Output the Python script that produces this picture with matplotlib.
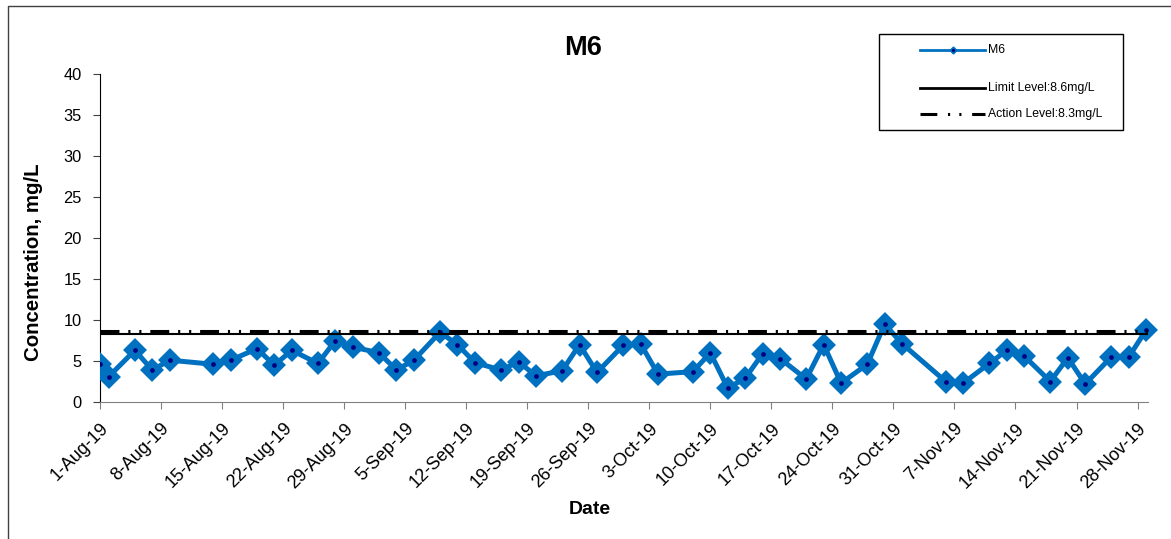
#!/usr/bin/env python3
"""
M6 concentration chart (Aug - Nov 2019).
"""

import matplotlib
matplotlib.use("Agg")
import matplotlib.pyplot as plt
import matplotlib.dates as mdates
from matplotlib.lines import Line2D
from matplotlib.patches import Rectangle
import pandas as pd

plt.rcParams['font.family'] = ['Liberation Sans', 'DejaVu Sans']

# sample dates and measured values
dates = [
    "2019-08-01", "2019-08-02", "2019-08-05", "2019-08-07", "2019-08-09",
    "2019-08-14", "2019-08-16", "2019-08-19", "2019-08-21", "2019-08-23",
    "2019-08-26", "2019-08-28", "2019-08-30", "2019-09-02", "2019-09-04",
    "2019-09-06", "2019-09-09", "2019-09-11", "2019-09-13", "2019-09-16",
    "2019-09-18", "2019-09-20", "2019-09-23", "2019-09-25", "2019-09-27",
    "2019-09-30", "2019-10-02", "2019-10-04", "2019-10-08", "2019-10-10",
    "2019-10-12", "2019-10-14", "2019-10-16", "2019-10-18", "2019-10-21",
    "2019-10-23", "2019-10-25", "2019-10-28", "2019-10-30", "2019-11-01",
    "2019-11-06", "2019-11-08", "2019-11-11", "2019-11-13", "2019-11-15",
    "2019-11-18", "2019-11-20", "2019-11-22", "2019-11-25", "2019-11-27",
    "2019-11-29",
]
m6_values = [
    4.6, 3.1, 6.3, 3.9, 5.1,
    4.6, 5.1, 6.5, 4.5, 6.3,
    4.7, 7.5, 6.7, 6.0, 3.9,
    5.1, 8.5, 7.0, 4.8, 3.9,
    4.9, 3.2, 3.8, 7.0, 3.6,
    6.9, 7.1, 3.4, 3.7, 6.0,
    1.7, 2.9, 5.9, 5.3, 2.8,
    7.0, 2.3, 4.6, 9.5, 7.1,
    2.5, 2.3, 4.7, 6.3, 5.6,
    2.5, 5.4, 2.2, 5.5, 5.5,
    8.8,
]

# reference levels (positions as drawn on the chart)
limit_level = 8.3
action_level = 8.6
limit_label = "Limit Level:8.6mg/L"
action_label = "Action Level:8.3mg/L"

tick_dates = pd.date_range("2019-08-01", "2019-11-28", freq="7D")
y_ticks = [0, 5, 10, 15, 20, 25, 30, 35, 40]

BLUE = "#0070C0"
NAVY = "#000080"
ACTION_DASH = (0, (6.2, 2.9, 0.7, 2.9, 0.7, 2.9))

x = pd.to_datetime(dates)

W, H = 1171, 539
fig = plt.figure(figsize=(W / 100, H / 100), dpi=100)
ax = fig.add_axes([100 / W, 1 - 402 / H, (1148 - 100) / W, (402 - 74) / H])

# outer chart border (only left/top visible in this crop)
fig.patches.append(Rectangle((7.5 / W, -0.2), 1.5, 1.2 - 6 / H,
                             transform=fig.transFigure, fill=False,
                             edgecolor="#404040", linewidth=1.0))

# clip only on the left so the last marker may spill right
clip = Rectangle((0, -1), 3, 3, transform=ax.transAxes, visible=False)
ax.add_patch(clip)

line, = ax.plot(x, m6_values, color=BLUE, lw=3.6, marker="D", ms=9.3,
                mfc=BLUE, mec=BLUE, mew=3, solid_joinstyle="round", zorder=3)
line.set_clip_path(clip)
dots, = ax.plot(x, m6_values, ls="none", marker="o", ms=2.4, color=NAVY, zorder=4)
dots.set_clip_path(clip)

ax.axhline(limit_level, color="black", lw=1.5, zorder=5)
ax.axhline(action_level, color="black", lw=2.2, ls=ACTION_DASH, zorder=5)

ax.set_xlim(mdates.date2num(pd.Timestamp("2019-08-01")),
            mdates.date2num(pd.Timestamp("2019-11-29")) + 0.2)
ax.set_ylim(0, 40)
ax.set_yticks(y_ticks)
ax.set_xticks(tick_dates)
ax.set_xticklabels([f"{d.day}-{d.strftime('%b')}-{d.strftime('%y')}" for d in tick_dates],
                   rotation=45, ha="right", rotation_mode="anchor", fontsize=13)
ax.tick_params(axis="y", labelsize=11.8, length=5, pad=8, color="#404040")
ax.tick_params(axis="x", length=5, pad=8, color="#808080")

for s in ["top", "right"]:
    ax.spines[s].set_visible(False)
ax.spines["left"].set_color("black")
ax.spines["bottom"].set_color("#808080")

fig.text(583 / W, 1 - 48 / H, "M6", ha="center", va="center",
         fontsize=19.5, fontweight="bold")
fig.text(590 / W, 1 - 510 / H, "Date", ha="center", va="center",
         fontsize=14, fontweight="bold")
fig.text(34 / W, 1 - 262 / H, "Concentration, mg/L", ha="center", va="center",
         rotation=90, fontsize=14.7, fontweight="bold")

# legend box, drawn by hand to keep Excel's uneven row spacing
fig.patches.append(Rectangle((879 / W, 1 - 130 / H), (1123 - 879) / W, 96 / H,
                             transform=fig.transFigure, fill=False,
                             edgecolor="black", linewidth=1.0))
leg_rows = [50, 88, 114]
hx = [920 / W, 985 / W]
fig.lines.append(Line2D(hx, [1 - leg_rows[0] / H] * 2, transform=fig.transFigure,
                        color=BLUE, lw=2))
fig.lines.append(Line2D([952.5 / W], [1 - leg_rows[0] / H], transform=fig.transFigure,
                        ls="none", marker="D", ms=3.5, mfc=BLUE, mec=BLUE))
fig.lines.append(Line2D([952.5 / W], [1 - leg_rows[0] / H], transform=fig.transFigure,
                        ls="none", marker="o", ms=1.3, color=NAVY))
fig.lines.append(Line2D(hx, [1 - leg_rows[1] / H] * 2, transform=fig.transFigure,
                        color="black", lw=2))
fig.lines.append(Line2D(hx, [1 - leg_rows[2] / H] * 2, transform=fig.transFigure,
                        color="black", lw=2.2, ls=(0, (5.5, 3.5, 0.7, 3.0, 0.7, 3.5))))
for row, lbl in zip(leg_rows, ["M6", limit_label, action_label]):
    fig.text(988 / W, 1 - row / H, lbl, ha="left", va="center", fontsize=8.8)

fig.savefig("out.png", dpi=100)
